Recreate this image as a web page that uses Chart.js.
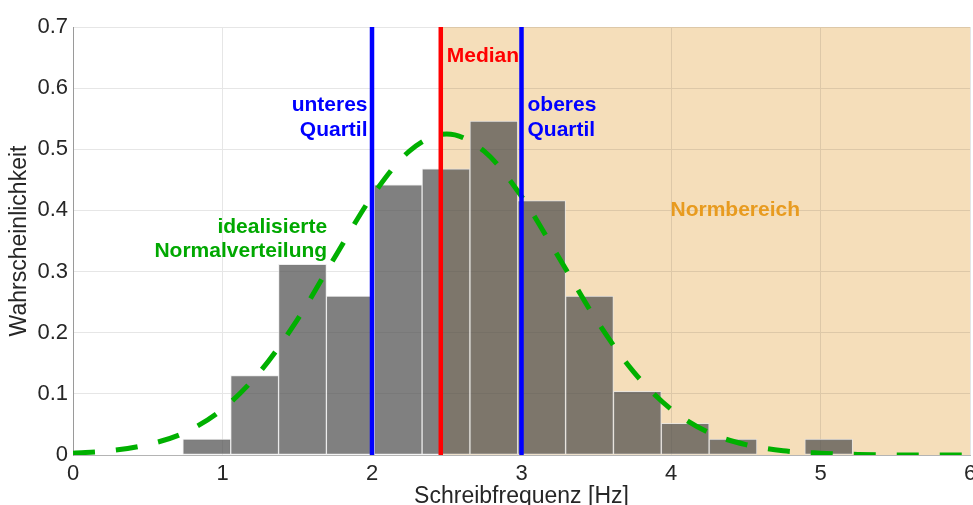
<!DOCTYPE html>
<html>
<head>
<meta charset="utf-8">
<script src="https://cdn.jsdelivr.net/npm/chart.js@4/dist/chart.umd.min.js"></script>
<style>
  html, body { margin: 0; padding: 0; background: #fff; overflow: hidden; }
  canvas { display: block; }
</style>
</head>
<body>
<canvas id="histChart" width="1000" height="520"></canvas>
<script>
// Histogramm: Klassenmitten und Höhen
const binCenters = [0.895, 1.215, 1.535, 1.855, 2.175, 2.495, 2.815, 3.135, 3.455, 3.775, 4.095, 4.415, 5.055];
const binHeights = [0.026, 0.13, 0.312, 0.26, 0.442, 0.468, 0.546, 0.416, 0.26, 0.104, 0.052, 0.026, 0.026];

const curveX = [0, 0.25, 0.5, 0.75, 1, 1.25, 1.5, 1.75, 2, 2.25, 2.5, 2.75, 3, 3.25, 3.5, 3.75, 4, 4.25, 4.5, 4.75, 5, 5.25, 5.5, 5.75, 6];
const curveY = [0.003, 0.007, 0.017, 0.037, 0.075, 0.136, 0.221, 0.323, 0.423, 0.497, 0.525, 0.497, 0.423, 0.323, 0.221, 0.136, 0.075, 0.037, 0.017, 0.007, 0.003, 0.001, 0, 0, 0];

// Kennwerte
const lowerQuartile = 2.0;
const median = 2.46;
const upperQuartile = 3.0;

const xTicks = [0, 1, 2, 3, 4, 5, 6];
const yTicks = [0, 0.1, 0.2, 0.3, 0.4, 0.5, 0.6, 0.7];

const FONT = '"Liberation Sans", Arial, Helvetica, sans-serif';

// Beschriftungen im Diagramm: [Text, x, y, Farbe, Ausrichtung]
const notes = [
  ['Median', 2.5, 0.652, '#ff0000', 'left'],
  ['unteres', 1.97, 0.572, '#0000ff', 'right'],
  ['Quartil', 1.97, 0.532, '#0000ff', 'right'],
  ['oberes', 3.04, 0.572, '#0000ff', 'left'],
  ['Quartil', 3.04, 0.532, '#0000ff', 'left'],
  ['Normbereich', 4.43, 0.401, '#e89b1f', 'center'],
  ['idealisierte', 1.70, 0.372, '#00a800', 'right'],
  ['Normalverteilung', 1.70, 0.333, '#00a800', 'right']
];

// Normbereich ab dem Median einfärben (unter den Balken)
const shadePlugin = {
  id: 'shade',
  beforeDatasetsDraw(chart) {
    const { ctx, chartArea, scales } = chart;
    const x0 = scales.x.getPixelForValue(median);
    ctx.save();
    ctx.globalCompositeOperation = 'multiply';
    ctx.fillStyle = 'rgb(245, 222, 186)';
    ctx.fillRect(x0, chartArea.top, chartArea.right - x0, chartArea.bottom - chartArea.top);
    ctx.restore();
  }
};

// Senkrechte Linien für Quartile und Median plus Texte
const markPlugin = {
  id: 'marks',
  afterDatasetsDraw(chart) {
    const { ctx, chartArea, scales } = chart;
    ctx.save();
    ctx.lineWidth = 4.5;
    [[lowerQuartile, '#0000ff'], [median, '#ff0000'], [upperQuartile, '#0000ff']].forEach(([v, c]) => {
      const x = scales.x.getPixelForValue(v);
      ctx.strokeStyle = c;
      ctx.beginPath();
      ctx.moveTo(x, chartArea.top);
      ctx.lineTo(x, chartArea.bottom);
      ctx.stroke();
    });
    ctx.font = 'bold 21px ' + FONT;
    ctx.textBaseline = 'middle';
    notes.forEach(([t, x, y, c, align]) => {
      ctx.fillStyle = c;
      ctx.textAlign = align;
      ctx.fillText(t, scales.x.getPixelForValue(x), scales.y.getPixelForValue(y));
    });
    ctx.restore();
  }
};

const ctx = document.getElementById('histChart').getContext('2d');

new Chart(ctx, {
  data: {
    datasets: [
      {
        type: 'line',
        label: 'Normalverteilung',
        data: curveX.map((x, i) => ({ x: x, y: curveY[i] })),
        borderColor: '#00b000',
        borderWidth: 5,
        borderDash: [22, 21],
        borderCapStyle: 'butt',
        cubicInterpolationMode: 'monotone',
        pointRadius: 0,
        fill: false,
        order: 1
      },
      {
        type: 'bar',
        label: 'Häufigkeit',
        data: binCenters.map((x, i) => ({ x: x, y: binHeights[i] })),
        backgroundColor: 'rgba(74, 74, 74, 0.7)',
        borderColor: 'rgba(230, 230, 230, 0.75)',
        borderWidth: 1,
        borderSkipped: false,
        barPercentage: 1,
        categoryPercentage: 1,
        order: 2
      }
    ]
  },
  options: {
    responsive: false,
    animation: false,
    layout: { padding: { left: 0, top: 27, right: 30, bottom: 0 } },
    plugins: {
      legend: { display: false },
      tooltip: { enabled: false }
    },
    scales: {
      x: {
        type: 'linear',
        min: 0,
        max: 6,
        offset: false,
        afterBuildTicks: (scale) => { scale.ticks = xTicks.map(v => ({ value: v })); },
        afterFit: (scale) => { scale.height = 65; },
        grid: { color: '#e6e6e6', drawTicks: false, offset: false },
        border: { color: '#b4b4b4' },
        ticks: { color: '#262626', font: { family: FONT, size: 22 }, padding: 6, maxRotation: 0 },
        title: {
          display: true,
          text: 'Schreibfrequenz [Hz]',
          color: '#262626',
          font: { family: FONT, size: 23 },
          padding: { top: 10, bottom: 10 }
        }
      },
      y: {
        min: 0,
        max: 0.7,
        afterBuildTicks: (scale) => { scale.ticks = yTicks.map(v => ({ value: v })); },
        afterFit: (scale) => { scale.width = 73; },
        grid: { color: '#e6e6e6', drawTicks: false },
        border: { color: '#9a9a9a' },
        ticks: { color: '#262626', font: { family: FONT, size: 22 }, padding: 5 },
        title: {
          display: true,
          text: 'Wahrscheinlichkeit',
          color: '#262626',
          font: { family: FONT, size: 23 },
          padding: { top: 6, bottom: 6 }
        }
      }
    }
  },
  plugins: [shadePlugin, markPlugin]
});
</script>
</body>
</html>
